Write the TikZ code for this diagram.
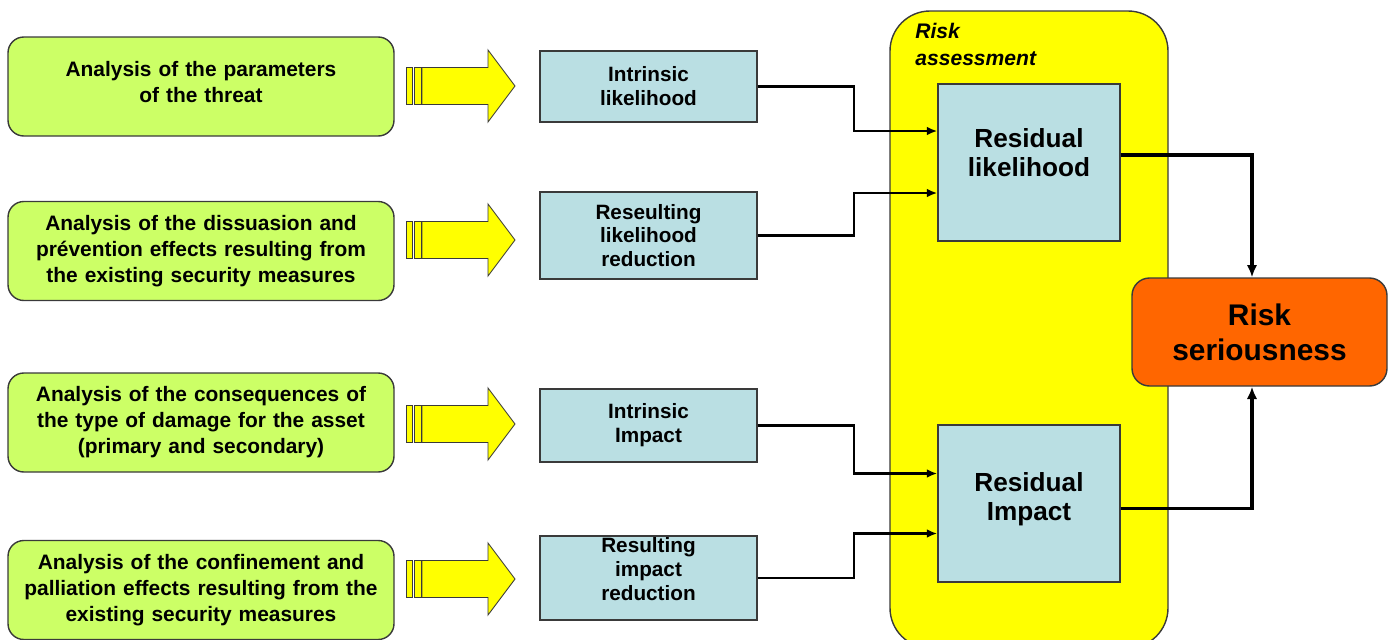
\documentclass[tikz,border=0pt]{standalone}
\usepackage{fontspec}
\setmainfont{Liberation Sans}
\usetikzlibrary{arrows.meta,positioning,calc}
\definecolor{StepGreen}{HTML}{CCFF66}
\definecolor{StepBlue}{HTML}{BADFE3}
\definecolor{ZoneYellow}{HTML}{FFFF00}
\definecolor{RiskOrange}{HTML}{FF6600}
\definecolor{EdgeGray}{HTML}{3A3A3A}

\begin{document}
\begin{tikzpicture}[
      analysis/.style={draw=EdgeGray,line width=0.8pt,rounded corners=9pt,
                   fill=StepGreen,text width=7.35cm,align=center,
                   minimum width=7.72cm,minimum height=1.98cm,
                   font=\fontsize{11.9}{14.8}\selectfont\bfseries},
      factor/.style={draw=EdgeGray,line width=0.8pt,fill=StepBlue,
                   text width=4.0cm,align=center,minimum width=4.34cm,inner ysep=0pt,
                   font=\fontsize{11.8}{13.6}\selectfont\bfseries},
      residual/.style={factor,minimum width=3.64cm,minimum height=3.14cm,
                   text width=3.3cm,font=\fontsize{14.9}{16.5}\selectfont\bfseries},
      bigarrow/.style={draw=EdgeGray,line width=0.5pt,fill=ZoneYellow},
      link/.style={-{Latex[length=6pt,width=5pt]},line width=1.3pt},
      mainlink/.style={-{Latex[length=7pt,width=6pt]},line width=2pt},
    ]
    \useasboundingbox (0,0) rectangle (27.88,-12.78);

    \node[draw=EdgeGray,line width=0.8pt,fill=ZoneYellow,rounded corners=0.8cm,
          minimum width=5.56cm,minimum height=12.74cm] (zone) at (20.58,-6.59) {};
    \node[anchor=north west,align=left,inner sep=0pt,
          font=\fontsize{12}{15.4}\selectfont\bfseries\itshape] (zonelbl) at (18.3,-0.46)
         {Risk\\ assessment};

    \node[analysis,text depth=0.7cm](threat) at (4.02,-1.73) {Analysis of the parameters\\ of the threat};
    \node[analysis](dissu)  at (4.02,-5.02) {Analysis of the dissuasion and\\ prévention effects resulting from\\ the existing security measures};
    \node[analysis](conseq) at (4.02,-8.45) {Analysis of the consequences of\\ the type of damage for the asset\\ (primary and secondary)};
    \node[analysis](confin) at (4.02,-11.8) {Analysis of the confinement and\\ palliation effects resulting from the\\ existing security measures};

    \foreach \y in {-1.72,-4.80,-8.48,-11.58}{
      \draw[bigarrow] (8.12,\y+0.37) rectangle (8.24,\y-0.37);
      \draw[bigarrow] (8.28,\y+0.37) rectangle (8.42,\y-0.37);
      \draw[bigarrow] (8.44,\y+0.37) -- (9.76,\y+0.37) -- (9.76,\y+0.72)
            -- (10.30,\y) -- (9.76,\y-0.72) -- (9.76,\y-0.37) -- (8.44,\y-0.37) -- cycle;
    }

    \node[factor,minimum height=1.42cm](intlik) at (12.97,-1.73) {Intrinsic\\ likelihood};
    \node[factor,minimum height=1.74cm](redlik) at (12.97,-4.71) {Reseulting\\ likelihood\\ reduction};
    \node[factor,minimum height=1.46cm](intimp) at (12.97,-8.51) {Intrinsic\\ Impact};
    \node[factor,minimum height=1.68cm,text depth=1.32cm](redimp) at (12.97,-11.56) {Resulting\\ impact\\ reduction};

    \node[residual,text depth=0.97cm](reslik) at (20.58,-3.25) {Residual\\ likelihood};
    \node[residual,text depth=0.87cm](resimp) at (20.58,-10.07) {Residual\\ Impact};

    \node[draw=EdgeGray,line width=0.8pt,fill=RiskOrange,rounded corners=10pt,
          minimum width=5.1cm,minimum height=2.16cm,align=center,
          font=\fontsize{17}{20}\selectfont\bfseries] (serious) at (25.19,-6.64)
         {Risk\\ seriousness};

    \draw[link] (intlik.east) -- ++(1.92,0) |- ([yshift=0.63cm]reslik.west);
    \draw[link] (redlik.east) -- ++(1.92,0) |- ([yshift=-0.61cm]reslik.west);
    \draw[link] (intimp.east) -- ++(1.92,0) |- ([yshift=0.6cm]resimp.west);
    \draw[link] (redimp.east) -- ++(1.92,0) |- ([yshift=-0.6cm]resimp.west);

    \draw[mainlink] ([yshift=0.15cm]reslik.east) -| ([xshift=-0.15cm]serious.north);
    \draw[mainlink] ([yshift=-0.1cm]resimp.east) -| ([xshift=-0.15cm]serious.south);
  \end{tikzpicture}
\end{document}
